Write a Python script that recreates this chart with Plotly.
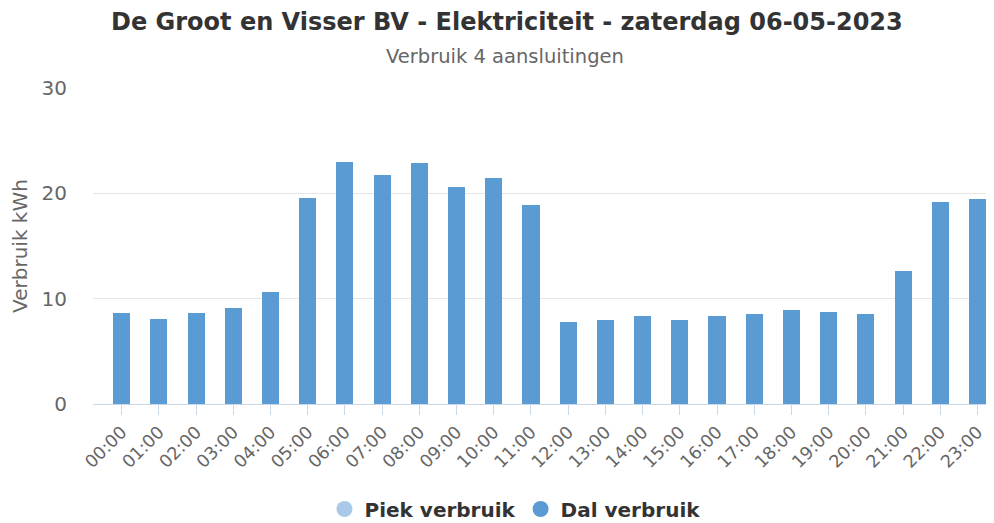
import plotly.graph_objects as go

hours = ["00:00", "01:00", "02:00", "03:00", "04:00", "05:00", "06:00", "07:00",
         "08:00", "09:00", "10:00", "11:00", "12:00", "13:00", "14:00", "15:00",
         "16:00", "17:00", "18:00", "19:00", "20:00", "21:00", "22:00", "23:00"]
dal_verbruik = [8.6, 8.1, 8.6, 9.1, 10.6, 19.6, 23.0, 21.7, 22.9, 20.6, 21.5, 18.9,
                7.8, 8.0, 8.4, 8.0, 8.4, 8.5, 8.9, 8.7, 8.5, 12.6, 19.2, 19.5]
piek_verbruik = [0, 0, 0, 0, 0, 0, 0, 0, 0, 0, 0, 0,
                 0, 0, 0, 0, 0, 0, 0, 0, 0, 0, 0, 0]
y_ticks = [0, 10, 20, 30]

PIEK_COLOR = "#a9c9e9"
DAL_COLOR = "#5b9bd3"
FONT = "DejaVu Sans"

# page body has an 8px margin; compensate so the chart lands at the window origin
OFF = 8
W, H = 994 - OFF, 523 - OFF
ml, mr, mt, mb = 93 - OFF, 2, 88 - OFF, 119

pw = W - ml - mr
ph = H - mt - mb
def sx(x):  # screen x -> paper x
    return (x - OFF - ml) / pw
def sy(y):  # screen y -> paper y
    return 1 - (y - OFF - mt) / ph

fig = go.Figure()
fig.add_trace(go.Bar(x=list(range(len(hours))), y=piek_verbruik, marker_color=PIEK_COLOR,
                     marker_line_width=0, width=0.46, showlegend=False, name="Piek verbruik"))
fig.add_trace(go.Bar(x=list(range(len(hours))), y=dal_verbruik, marker_color=DAL_COLOR,
                     marker_line_width=0, width=0.46, showlegend=False, name="Dal verbruik"))
# legend entries (circle symbols)
fig.add_trace(go.Scatter(x=[None], y=[None], mode="markers", name="Piek verbruik",
                         marker=dict(color=PIEK_COLOR, size=16, symbol="circle")))
fig.add_trace(go.Scatter(x=[None], y=[None], mode="markers", name="Dal verbruik",
                         marker=dict(color=DAL_COLOR, size=16, symbol="circle")))

fig.update_layout(
    width=W, height=H,
    margin=dict(l=ml, r=mr, t=mt, b=mb, autoexpand=False),
    paper_bgcolor="white", plot_bgcolor="white",
    barmode="stack",
    font=dict(family=FONT, color="#666666"),
    xaxis=dict(
        range=[-0.77, 23.39],
        tickmode="array", tickvals=list(range(len(hours))), ticktext=hours,
        tickangle=-45, tickfont=dict(size=17.5, color="#666666"),
        showgrid=False, zeroline=False,
        showline=True, linecolor="#ccd6eb", linewidth=1,
        ticks="outside", ticklen=10, tickcolor="#ccd6eb", tickwidth=1,
    ),
    yaxis=dict(
        range=[0, 30], tickmode="array", tickvals=y_ticks,
        tickfont=dict(size=20, color="#666666"),
        showgrid=True, gridcolor="#e6e6e6", gridwidth=1,
        zeroline=False, showline=False, ticks="", ticklabelstandoff=25,
        title=dict(text="Verbruik kWh", font=dict(size=20, color="#666666"), standoff=8),
    ),
    legend=dict(orientation="h", x=sx(515), xanchor="center",
                y=sy(509), yanchor="middle", traceorder="normal",
                font=dict(size=20, color="#333333", family=FONT, weight="bold"),
                itemwidth=30, tracegroupgap=0),
    annotations=[
        dict(text="<b>De Groot en Visser BV - Elektriciteit - zaterdag 06-05-2023</b>",
             xref="paper", yref="paper", x=sx(507), y=sy(22),
             xanchor="center", yanchor="middle", showarrow=False,
             font=dict(size=24, color="#333333", family=FONT)),
        dict(text="Verbruik 4 aansluitingen",
             xref="paper", yref="paper", x=sx(505), y=sy(57),
             xanchor="center", yanchor="middle", showarrow=False,
             font=dict(size=19.5, color="#666666", family=FONT)),
    ],
)

fig.write_html("out.html")
